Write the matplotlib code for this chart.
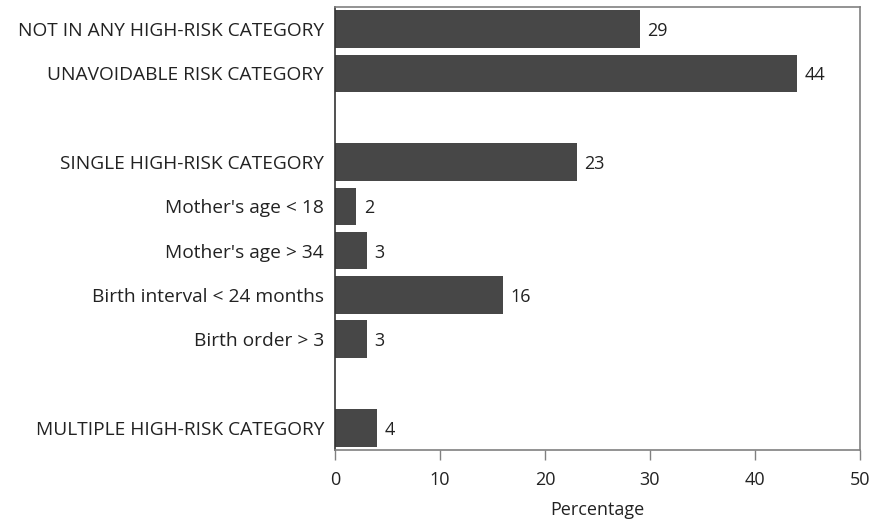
import numpy as np
import matplotlib
matplotlib.use("Agg")
import matplotlib.pyplot as plt

plt.rcParams['font.family'] = ['Open Sans', 'DejaVu Sans']

labels = ["NOT IN ANY HIGH-RISK CATEGORY", "UNAVOIDABLE RISK CATEGORY", "",
          "SINGLE HIGH-RISK CATEGORY", "Mother's age < 18", "Mother's age > 34",
          "Birth interval < 24 months", "Birth order > 3", "",
          "MULTIPLE HIGH-RISK CATEGORY"]
values = [29, 44, None, 23, 2, 3, 16, 3, None, 4]
xticks = [0, 10, 20, 30, 40, 50]

bar_color = '#474747'
frame_color = '#808080'
text_color = '#222222'
fs = 13

fig = plt.figure(figsize=(8.73, 5.25), dpi=100)
ax = fig.add_axes([335 / 873, 1 - 450 / 525, 525 / 873, 443 / 525])

pos = np.arange(len(labels))
for y, v in zip(pos, values):
    if v is None:
        continue
    ax.barh(y, v, height=0.85, color=bar_color)
    ax.text(v + 0.75, y, str(v), va='center_baseline', ha='left', fontsize=fs, color=text_color)

ax.set_ylim(len(labels) - 0.5, -0.5)
ax.set_xlim(0, 50)
ax.set_yticks(pos)
ax.set_yticklabels(labels, fontsize=13.8, color=text_color)
ax.tick_params(axis='y', length=0, pad=8)
ax.set_xticks(xticks)
ax.tick_params(axis='x', length=7, width=1, color=frame_color, labelsize=fs,
               labelcolor=text_color, pad=8)
ax.set_xlabel('Percentage', fontsize=fs, color=text_color, labelpad=9)

for side in ['top', 'right', 'bottom']:
    ax.spines[side].set_color(frame_color)
    ax.spines[side].set_linewidth(1.2)
ax.spines['left'].set_color('#333333')
ax.spines['left'].set_linewidth(1.2)

fig.savefig('out.png', dpi=100)
